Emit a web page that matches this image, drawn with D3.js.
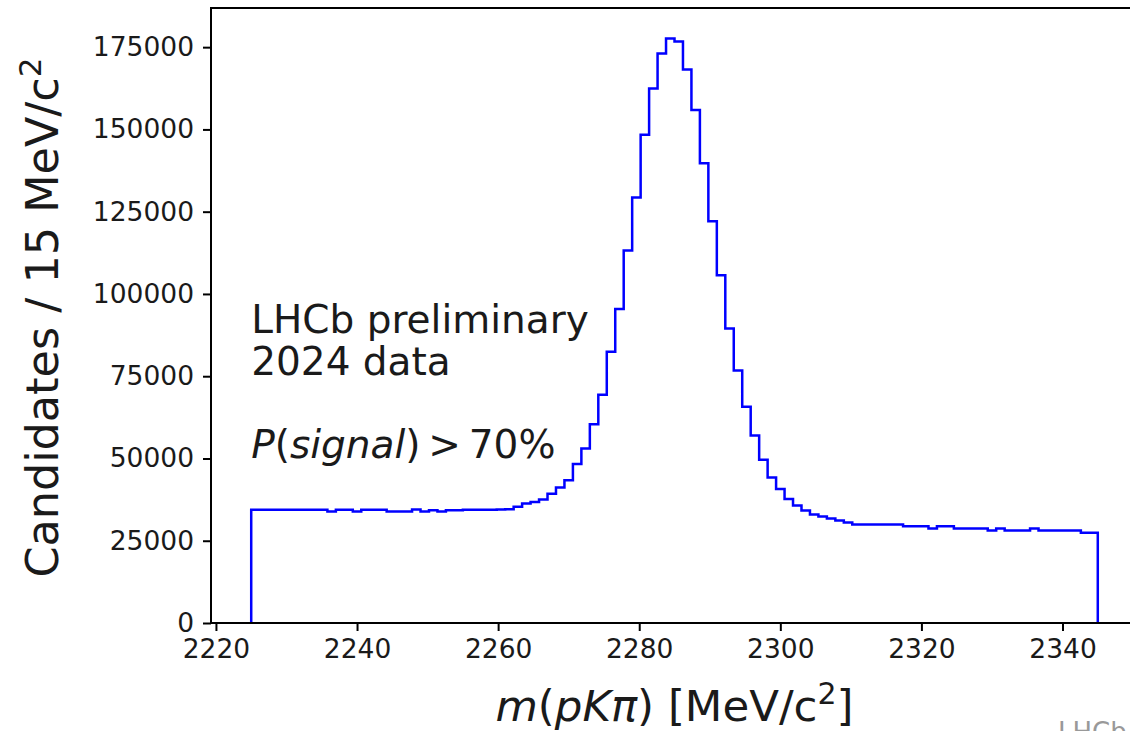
<!DOCTYPE html>
<html>
<head>
<meta charset="utf-8">
<script src="https://cdn.jsdelivr.net/npm/d3@7"></script>
<style>
  html, body { margin: 0; padding: 0; background: #fff; overflow: hidden; }
  svg { display: block; font-family: "DejaVu Sans", sans-serif; }
</style>
</head>
<body>
<svg id="chart" width="1130" height="731"></svg>
<script>
// histogram data {{{ //
const binLow = 2225;      // MeV
const binWidth = 1.2;     // MeV
const counts = [
  34400, 34400, 34400, 34400, 34400, 34400, 34400, 34400, 34400, 33900,
  34400, 34400, 33900, 34400, 34400, 34400, 33900, 33900, 33900, 34500,
  33900, 34300, 33900, 34300, 34300, 34400, 34400, 34400, 34400, 34500,
  34600, 35300, 36300, 36800, 37550, 39300, 41150, 43400, 48300, 53000,
  60400, 69400, 82400, 95400, 113200, 129300, 148400, 162400, 173100, 177600,
  176700, 168200, 155900, 139700, 122100, 105700, 89500, 76700, 65700, 57000,
  49600, 44200, 40700, 37700, 35700, 34200, 33000, 32350, 31750, 31150,
  30550, 29900, 29900, 29900, 29900, 29900, 29900, 29400, 29400, 29400,
  28700, 29400, 29400, 28700, 28700, 28700, 28700, 28100, 28700, 28100,
  28100, 28100, 28700, 28100, 28100, 28100, 28100, 28100, 27400, 27400
];
const xTicks = [2220, 2240, 2260, 2280, 2300, 2320, 2340];
const yTicks = [0, 25000, 50000, 75000, 100000, 125000, 150000, 175000];
const xDomain = [2219.3, 2350.7];
const yDomain = [0, 186900];
// }}} histogram data //

const svg = d3.select("#chart");
const margin = {left: 211, top: 8, right: -8, bottom: 108};
const width = 1130 - margin.left - margin.right;
const height = 731 - margin.top - margin.bottom;

const x = d3.scaleLinear().domain(xDomain).range([0, width]);
const y = d3.scaleLinear().domain(yDomain).range([height, 0]);

const g = svg.append("g")
  .attr("transform", "translate(" + margin.left + "," + margin.top + ")");

// step line {{{ //
let pts = [[binLow, 0]];
counts.forEach(function(c, i) {
  pts.push([binLow + i * binWidth, c]);
});
pts.push([binLow + counts.length * binWidth, counts[counts.length - 1]]);
pts.push([binLow + counts.length * binWidth, 0]);

const line = d3.line()
  .x(d => x(d[0]))
  .y(d => y(d[1]))
  .curve(d3.curveStepAfter);

g.append("path")
  .datum(pts)
  .attr("fill", "none")
  .attr("stroke", "#0000ff")
  .attr("stroke-width", 2.5)
  .attr("d", line);
// }}} step line //

// axes {{{ //
const xAxis = g.append("g")
  .attr("transform", "translate(0," + height + ")")
  .call(d3.axisBottom(x).tickValues(xTicks).tickFormat(d3.format("d"))
    .tickSize(8).tickPadding(8).tickSizeOuter(0));

const yAxis = g.append("g")
  .call(d3.axisLeft(y).tickValues(yTicks).tickFormat(d3.format("d"))
    .tickSize(8).tickPadding(9).tickSizeOuter(0));

[xAxis, yAxis].forEach(function(a) {
  a.select(".domain").remove();
  a.selectAll(".tick line").attr("stroke", "#000").attr("stroke-width", 2);
  a.selectAll(".tick text")
    .attr("fill", "#1a1a1a")
    .style("font-family", "DejaVu Sans")
    .style("font-size", "26.5px");
});

// spines
g.append("rect")
  .attr("x", 0).attr("y", 0)
  .attr("width", width).attr("height", height)
  .attr("fill", "none")
  .attr("stroke", "#000")
  .attr("stroke-width", 2);
// }}} axes //

// labels {{{ //
const xl = svg.append("text")
  .attr("x", margin.left + width / 2)
  .attr("y", 721)
  .attr("text-anchor", "middle")
  .attr("fill", "#1a1a1a")
  .style("font-size", "43.5px");
xl.append("tspan").attr("font-style", "italic").text("m");
xl.append("tspan").text("(");
xl.append("tspan").attr("font-style", "italic").text("pKπ");
xl.append("tspan").text(") [MeV/c");
xl.append("tspan").attr("dy", -17).style("font-size", "30px").text("2");
xl.append("tspan").attr("dy", 17).text("]");

const yl = svg.append("text")
  .attr("transform", "translate(58," + (margin.top + height / 2 + 2) + ") rotate(-90)")
  .attr("text-anchor", "middle")
  .attr("fill", "#1a1a1a")
  .style("font-size", "44.5px");
yl.append("tspan").text("Candidates / 15 MeV/c");
yl.append("tspan").attr("dy", -17).style("font-size", "31px").text("2");

// annotation
const note = g.append("g")
  .attr("fill", "#1a1a1a")
  .style("font-size", "39px");
note.append("text").attr("x", x(binLow)).attr("y", 325).text("LHCb preliminary");
note.append("text").attr("x", x(binLow)).attr("y", 367).text("2024 data");
const sig = note.append("text").attr("x", x(binLow)).attr("y", 450);
sig.append("tspan").attr("font-style", "italic").text("P");
sig.append("tspan").text("(");
sig.append("tspan").attr("font-style", "italic").text("signal");
sig.append("tspan").text(")\u2009>\u200970%");

// cut-off watermark at the bottom right
svg.append("text")
  .attr("x", 1058).attr("y", 741)
  .attr("fill", "#999")
  .style("font-size", "26px")
  .text("LHCb");
// }}} labels //
</script>
</body>
</html>
